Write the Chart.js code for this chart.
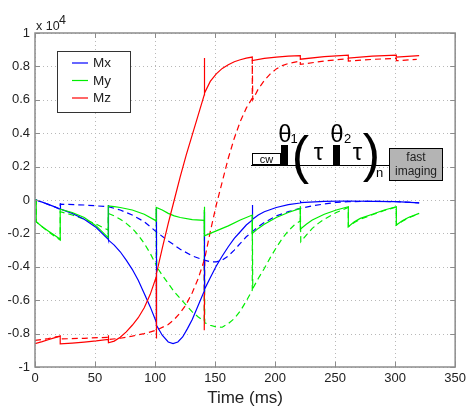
<!DOCTYPE html>
<html><head><meta charset="utf-8">
<style>html,body{margin:0;padding:0;background:#fff;} #wrap{position:relative;width:470px;height:406px;}</style>
<script src="https://cdn.jsdelivr.net/npm/chart.js@4.4.1/dist/chart.umd.min.js"></script>
</head><body><div id="wrap"><canvas id="c" width="470" height="406"></canvas></div>
<script>
// ---- data (time in ms, magnetisation in units of 1e4) ----
const seriesLabels = ['Mx', 'My', 'Mz'];
const xTicks = [0, 50, 100, 150, 200, 250, 300, 350];
const yTicks = [-1, -0.8, -0.6, -0.4, -0.2, 0, 0.2, 0.4, 0.6, 0.8, 1];
const yTickLabels = ['-1', '-0.8', '-0.6', '-0.4', '-0.2', '0', '0.2', '0.4', '0.6', '0.8', '1'];
const xTickLabels = ['0', '50', '100', '150', '200', '250', '300', '350'];

const mxSolid = [[0,0],[1,0],[6,-0.013],[11,-0.026],[16,-0.04],[21,-0.055],[21,-0.02],[21.4,-0.055],[31,-0.08],[41,-0.115],[51,-0.165],[61,-0.235],[61,-0.03],[61.4,-0.24],[66,-0.27],[71,-0.31],[76,-0.36],[81,-0.415],[86,-0.48],[91,-0.56],[96,-0.64],[101,-0.73],[101,-0.05],[101.4,-0.75],[106,-0.81],[111,-0.85],[115,-0.86],[119,-0.85],[123,-0.82],[127,-0.77],[131,-0.715],[136,-0.63],[141,-0.545],[141,-0.07],[141.4,-0.535],[146,-0.465],[151,-0.395],[156,-0.335],[161,-0.28],[166,-0.23],[171,-0.19],[176,-0.15],[181,-0.12],[181,-0.03],[181.4,-0.115],[186,-0.09],[191,-0.07],[201,-0.045],[211,-0.028],[221,-0.018],[221,-0.005],[221.4,-0.016],[241,-0.008],[261,-0.006],[281,-0.008],[301,-0.01],[320,-0.017]];
const mySolid = [[0,0],[1,0],[1,-0.13],[6,-0.16],[11,-0.185],[16,-0.21],[21,-0.235],[21,-0.055],[31,-0.075],[41,-0.105],[51,-0.155],[61,-0.225],[61,-0.035],[66,-0.04],[71,-0.045],[81,-0.06],[91,-0.085],[101,-0.125],[101,-0.045],[106,-0.06],[111,-0.08],[116,-0.095],[121,-0.105],[131,-0.118],[141,-0.122],[141,-0.04],[141.4,-0.215],[146,-0.2],[151,-0.185],[161,-0.155],[171,-0.12],[181,-0.09],[181,-0.2],[186,-0.17],[191,-0.145],[201,-0.105],[211,-0.075],[221,-0.05],[221,-0.175],[226,-0.145],[231,-0.12],[241,-0.085],[251,-0.06],[261,-0.04],[261,-0.16],[266,-0.13],[271,-0.11],[281,-0.085],[291,-0.06],[301,-0.04],[301,-0.15],[306,-0.125],[311,-0.105],[320,-0.08]];
const mzSolid = [[0,-0.86],[6,-0.848],[11,-0.837],[16,-0.826],[21,-0.815],[21,-0.862],[31,-0.857],[41,-0.851],[51,-0.844],[61,-0.835],[61,-0.81],[61.4,-0.855],[66,-0.845],[71,-0.822],[76,-0.79],[81,-0.75],[86,-0.705],[91,-0.645],[96,-0.565],[101,-0.46],[101,-0.83],[101.4,-0.44],[106,-0.29],[111,-0.14],[116,0.0],[121,0.14],[126,0.27],[131,0.39],[136,0.51],[141,0.63],[141,0.85],[141.4,0.64],[146,0.71],[151,0.755],[156,0.788],[161,0.81],[166,0.828],[171,0.84],[176,0.85],[181,0.856],[181,0.835],[191,0.848],[201,0.856],[211,0.861],[221,0.865],[221,0.843],[241,0.858],[261,0.867],[261,0.85],[281,0.862],[301,0.868],[301,0.855],[320,0.864]];
const mxDashed = [[0,0],[1,0],[6,-0.013],[11,-0.026],[16,-0.04],[21,-0.055],[21,-0.025],[41,-0.03],[61,-0.04],[71,-0.06],[81,-0.09],[91,-0.13],[101,-0.19],[111,-0.245],[121,-0.295],[131,-0.335],[141,-0.36],[146,-0.37],[151,-0.37],[156,-0.36],[161,-0.335],[166,-0.3],[171,-0.26],[176,-0.22],[181,-0.19],[186,-0.16],[191,-0.135],[196,-0.115],[201,-0.095],[211,-0.07],[221,-0.05],[231,-0.035],[241,-0.024],[251,-0.015],[261,-0.01],[281,-0.008],[301,-0.01],[320,-0.017]];
const myDashed = [[0,0],[1,0],[1,-0.13],[6,-0.16],[11,-0.19],[16,-0.215],[21,-0.24],[21,-0.07],[31,-0.09],[41,-0.115],[51,-0.145],[61,-0.18],[61,-0.08],[66,-0.095],[71,-0.115],[76,-0.14],[81,-0.17],[86,-0.21],[91,-0.26],[96,-0.32],[101,-0.39],[101,-0.05],[101.4,-0.4],[106,-0.45],[111,-0.5],[116,-0.55],[121,-0.59],[126,-0.63],[131,-0.67],[136,-0.7],[141,-0.725],[141,-0.06],[141.4,-0.735],[146,-0.75],[151,-0.76],[156,-0.762],[161,-0.74],[166,-0.71],[171,-0.665],[176,-0.605],[181,-0.54],[181,-0.09],[181.4,-0.53],[186,-0.47],[191,-0.41],[196,-0.345],[201,-0.285],[206,-0.23],[211,-0.185],[216,-0.15],[221,-0.125],[221,-0.03],[221.4,-0.25],[226,-0.21],[231,-0.17],[236,-0.14],[241,-0.115],[251,-0.075],[261,-0.045],[261,-0.16],[266,-0.135],[271,-0.115],[281,-0.088],[291,-0.063],[301,-0.042],[301,-0.15],[306,-0.127],[311,-0.107],[320,-0.082]];
const mzDashed = [[0,-0.84],[6,-0.835],[11,-0.83],[16,-0.822],[21,-0.815],[21,-0.832],[41,-0.828],[61,-0.822],[61,-0.835],[71,-0.828],[81,-0.815],[91,-0.8],[101,-0.78],[111,-0.745],[116,-0.715],[121,-0.675],[126,-0.625],[131,-0.555],[136,-0.47],[141,-0.36],[141,-0.78],[141.4,-0.35],[146,-0.19],[151,-0.03],[156,0.11],[161,0.25],[166,0.37],[171,0.47],[176,0.55],[181,0.61],[181,0.84],[181.4,0.6],[186,0.665],[191,0.715],[196,0.755],[201,0.785],[206,0.805],[211,0.817],[221,0.832],[221,0.812],[241,0.832],[261,0.847],[261,0.832],[281,0.842],[301,0.848],[301,0.834],[318,0.842]];

// ---- styling ----
const FONT = "'Liberation Sans', Arial, Helvetica, sans-serif";
const COLORS = ['#0000ff', '#00ee00', '#ff0000'];
const AXIS = '#8c8c8c';
const toPts = arr => arr.map(p => ({x: p[0], y: p[1]}));

function ds(label, arr, color, dashed, order) {
  return {label, data: toPts(arr), borderColor: color, backgroundColor: color,
    borderWidth: 1.2, borderDash: dashed ? [6, 4] : [], pointRadius: 0, tension: 0,
    fill: false, order};
}

const gridPlugin = {
  id: 'dotgrid',
  beforeDatasetsDraw(chart) {
    const {ctx, chartArea: a, scales: {x, y}} = chart;
    ctx.save();
    ctx.strokeStyle = '#b8b8b8'; ctx.lineWidth = 1; ctx.setLineDash([1, 3]);
    ctx.beginPath();
    xTicks.forEach(v => {
      const px = Math.round(x.getPixelForValue(v)) + 0.5;
      ctx.moveTo(px, a.top); ctx.lineTo(px, a.bottom);
    });
    yTicks.forEach(v => {
      const py = Math.round(y.getPixelForValue(v)) + 0.5;
      ctx.moveTo(a.left, py); ctx.lineTo(a.right, py);
    });
    ctx.stroke();
    ctx.restore();
  }
};

const framePlugin = {
  id: 'frame',
  afterDraw(chart) {
    const {ctx, chartArea: a, scales: {x, y}} = chart;
    ctx.save();
    // inward ticks
    ctx.strokeStyle = AXIS; ctx.lineWidth = 1;
    ctx.beginPath();
    xTicks.forEach(v => {
      const px = Math.round(x.getPixelForValue(v)) + 0.5;
      ctx.moveTo(px, a.bottom); ctx.lineTo(px, a.bottom - 5);
      ctx.moveTo(px, a.top); ctx.lineTo(px, a.top + 5);
    });
    yTicks.forEach(v => {
      const py = Math.round(y.getPixelForValue(v)) + 0.5;
      ctx.moveTo(a.left, py); ctx.lineTo(a.left + 5, py);
      ctx.moveTo(a.right, py); ctx.lineTo(a.right - 5, py);
    });
    ctx.stroke();
    // box
    ctx.lineWidth = 1.5;
    ctx.strokeRect(a.left, a.top, a.right - a.left, a.bottom - a.top);

    // exponent label
    ctx.fillStyle = '#222';
    ctx.font = '12.5px ' + FONT;
    ctx.textAlign = 'left'; ctx.textBaseline = 'alphabetic';
    ctx.fillText('x 10', 36, 30);
    ctx.fillText('4', 59, 24);

    // legend
    ctx.fillStyle = '#fff';
    ctx.fillRect(57.5, 51.5, 73, 61);
    ctx.strokeStyle = '#333'; ctx.lineWidth = 1;
    ctx.strokeRect(57.5, 51.5, 73, 61);
    const ly = [63, 80.5, 98];
    chart.data.datasets.slice(0, 3).forEach((d, i) => {
      ctx.strokeStyle = d.borderColor; ctx.lineWidth = 1.2;
      ctx.beginPath(); ctx.moveTo(72, ly[i]); ctx.lineTo(88, ly[i]); ctx.stroke();
      ctx.fillStyle = '#222'; ctx.font = '13.5px ' + FONT;
      ctx.textBaseline = 'middle'; ctx.textAlign = 'left';
      ctx.fillText(d.label, 93, ly[i] + 0.5);
    });

    // inset pulse-sequence diagram
    ctx.strokeStyle = '#000'; ctx.fillStyle = '#000'; ctx.lineWidth = 1;
    ctx.beginPath(); ctx.moveTo(251, 165.5); ctx.lineTo(389, 165.5); ctx.stroke();
    ctx.fillStyle = '#fff';
    ctx.fillRect(252.5, 153.5, 28, 11);
    ctx.strokeRect(252.5, 153.5, 28, 11);
    ctx.fillStyle = '#000';
    ctx.font = '11px ' + FONT; ctx.textAlign = 'center'; ctx.textBaseline = 'middle';
    ctx.fillText('cw', 266.5, 159.5);
    ctx.fillRect(281, 145, 7, 20);
    ctx.fillRect(333, 145, 7, 20);
    ctx.textBaseline = 'alphabetic';
    ctx.font = '24px ' + FONT; ctx.textAlign = 'center';
    ctx.fillText('\u03b8', 285, 142);
    ctx.fillText('\u03b8', 337, 142);
    ctx.font = '13px ' + FONT;
    ctx.fillText('1', 294, 143);
    ctx.fillText('2', 347.5, 143);
    ctx.font = '24px ' + FONT;
    ctx.fillText('\u03c4', 318.5, 160);
    ctx.fillText('\u03c4', 357.5, 160);
    ctx.font = '52px ' + FONT;
    ctx.fillText('(', 300.5, 173);
    ctx.fillText(')', 371.5, 171);
    ctx.font = '13px ' + FONT;
    ctx.fillText('n', 379.5, 177);
    ctx.fillStyle = '#b4b4b4';
    ctx.fillRect(389.5, 148.5, 53, 32);
    ctx.strokeRect(389.5, 148.5, 53, 32);
    ctx.fillStyle = '#222';
    ctx.font = '12px ' + FONT; ctx.textBaseline = 'middle';
    ctx.fillText('fast', 416, 158);
    ctx.fillText('imaging', 416, 172);
    ctx.restore();
  }
};

new Chart(document.getElementById('c'), {
  type: 'line',
  data: {datasets: [
    ds(seriesLabels[0], mxSolid, COLORS[0], false, 3),
    ds(seriesLabels[1], mySolid, COLORS[1], false, 2),
    ds(seriesLabels[2], mzSolid, COLORS[2], false, 1),
    ds(seriesLabels[0] + ' (dashed)', mxDashed, COLORS[0], true, 6),
    ds(seriesLabels[1] + ' (dashed)', myDashed, COLORS[1], true, 5),
    ds(seriesLabels[2] + ' (dashed)', mzDashed, COLORS[2], true, 4)
  ]},
  options: {
    responsive: false, animation: false, devicePixelRatio: 1,
    layout: {padding: {top: 33, right: 13, left: 0, bottom: 0}},
    plugins: {legend: {display: false}, tooltip: {enabled: false}},
    scales: {
      x: {type: 'linear', min: 0, max: 350,
        afterFit: s => { s.height = 39; },
        afterBuildTicks: s => { s.ticks = xTicks.map(v => ({value: v})); },
        ticks: {padding: 4, color: '#222', font: {family: FONT, size: 13},
          callback: (v) => xTickLabels[xTicks.indexOf(v)] ?? ''},
        grid: {display: false, drawTicks: false},
        border: {display: false},
        title: {display: true, text: 'Time (ms)', color: '#222', font: {family: FONT, size: 17}, padding: {top: 0, bottom: -3}}
      },
      y: {type: 'linear', min: -1, max: 1,
        afterFit: s => { s.width = 35; },
        afterBuildTicks: s => { s.ticks = yTicks.map(v => ({value: v})); },
        ticks: {padding: 5, color: '#222', font: {family: FONT, size: 13},
          callback: (v) => { const i = yTicks.findIndex(t => Math.abs(t - v) < 1e-9); return i >= 0 ? yTickLabels[i] : ''; }},
        grid: {display: false, drawTicks: false},
        border: {display: false}
      }
    }
  },
  plugins: [gridPlugin, framePlugin]
});
</script></body></html>
